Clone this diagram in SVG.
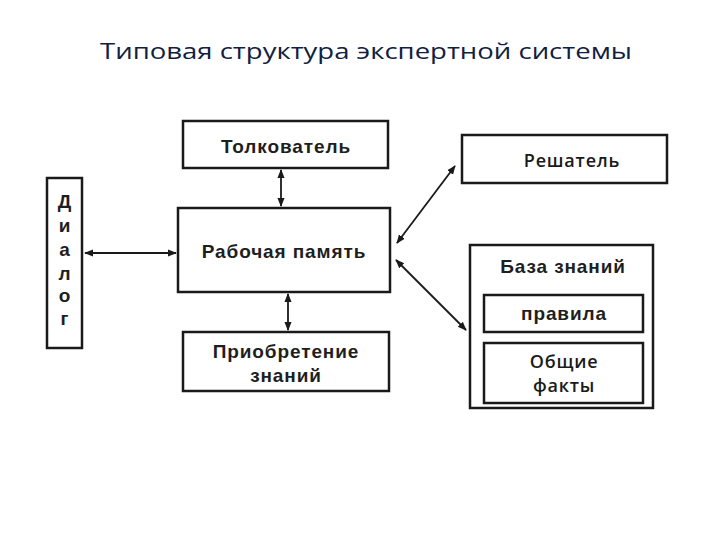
<svg xmlns="http://www.w3.org/2000/svg" width="720" height="540" viewBox="0 0 720 540">
<style>
.box{fill:#fff;stroke:#1a1a1a;stroke-width:2.5}
.lbl{font-family:"Liberation Sans",Arial,sans-serif;font-weight:bold;font-size:19px;letter-spacing:0.9px;fill:#1e1e1e;text-anchor:middle}
.thin{font-family:"Open Sans","Liberation Sans",sans-serif;font-weight:600;font-size:18px;letter-spacing:0.8px;fill:#1a1a1a}
.title{font-family:"Open Sans","Noto Sans",sans-serif;font-size:22px;fill:#10203f}
.con{stroke:#1a1a1a;stroke-width:1.8;fill:none;marker-start:url(#ah);marker-end:url(#ah)}
</style>
<defs>
<marker id="ah" viewBox="0 0 10 10" refX="9" refY="5" markerWidth="5" markerHeight="5" orient="auto-start-reverse" markerUnits="strokeWidth">
<path d="M0,1 L10,5 L0,9 z" fill="#1a1a1a"/>
</marker>
</defs>
<rect width="720" height="540" fill="#fff"/>
<text class="title" x="100" y="59" textLength="532" lengthAdjust="spacingAndGlyphs">Типовая структура экспертной системы</text>
<g id="tolkovatel">
<rect class="box" x="183" y="121" width="205" height="47"/>
<text class="lbl" x="286" y="153">Толкователь</text>
</g>
<g id="dialog">
<rect class="box" x="47" y="178" width="35" height="170"/>
<text class="lbl" x="65" y="208">Д</text>
<text class="lbl" x="65" y="232">и</text>
<text class="lbl" x="65" y="256">а</text>
<text class="lbl" x="65" y="280">л</text>
<text class="lbl" x="65" y="302">о</text>
<text class="lbl" x="65" y="325">г</text>
</g>
<g id="rabochaya">
<rect class="box" x="178" y="208" width="212" height="84"/>
<text class="lbl" x="284" y="258">Рабочая память</text>
</g>
<g id="priobretenie">
<rect class="box" x="183" y="332" width="206" height="59"/>
<text class="lbl" x="286" y="358">Приобретение</text>
<text class="lbl" x="286" y="382">знаний</text>
</g>
<g id="reshatel">
<rect class="box" x="462" y="135" width="205" height="48"/>
<text class="lbl thin" x="572" y="167">Решатель</text>
</g>
<g id="baza">
<rect class="box" x="470" y="245" width="183" height="163"/>
<text class="lbl" x="563" y="273">База знаний</text>
<rect class="box" x="484" y="295" width="159" height="37"/>
<text class="lbl" x="564" y="320">правила</text>
<rect class="box" x="484" y="343" width="159" height="60"/>
<text class="lbl thin" x="564" y="368">Общие</text>
<text class="lbl thin" x="564" y="392">факты</text>
</g>
<g id="connectors">
<line class="con" x1="281" y1="170" x2="281" y2="206"/>
<line class="con" x1="288" y1="294" x2="288" y2="330"/>
<line class="con" x1="85" y1="253" x2="176" y2="253"/>
<line class="con" x1="455" y1="166" x2="397" y2="243"/>
<line class="con" x1="396" y1="260" x2="466" y2="330"/>
</g>
</svg>
